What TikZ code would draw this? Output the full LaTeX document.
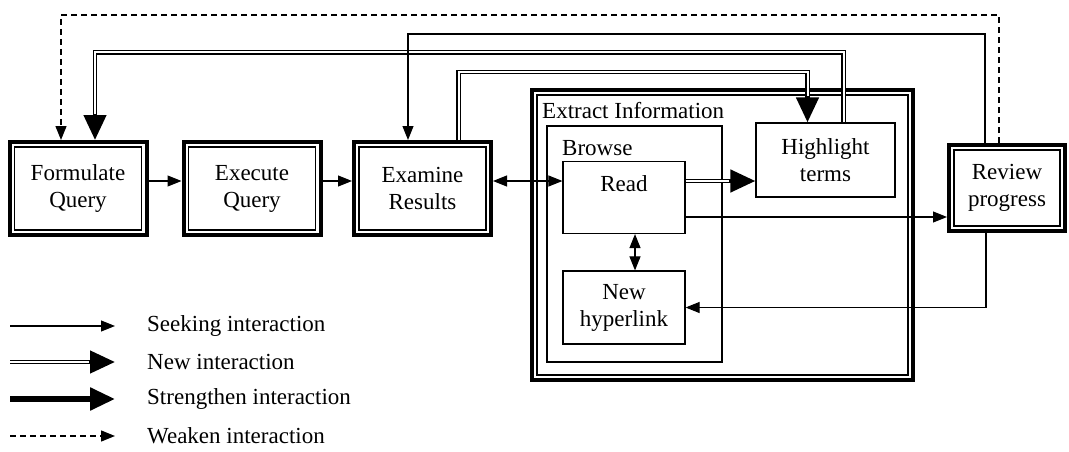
\documentclass[tikz,border=0pt]{standalone}
\usepackage{fontspec}
\setmainfont{Liberation Serif}
\usetikzlibrary{positioning,arrows.meta}
\tikzset{
  stage/.style={rectangle, draw=black, line width=1.2pt, minimum width=127pt, minimum height=83pt, outer sep=7pt, align=center},
  frame/.style={draw=black, line width=4pt},
  task/.style={rectangle, draw=black, line width=1.2pt, minimum width=122pt, minimum height=72pt, align=center},
  group/.style={rectangle, draw=black, line width=1.2pt},
  caption/.style={anchor=base west, inner sep=0pt},
  keytext/.style={anchor=west, inner sep=0pt},
  seek/.style={line width=1.1pt, -{Triangle[length=14pt,width=11pt]}},
  seekboth/.style={line width=1.1pt, {Triangle[length=14pt,width=11pt]}-{Triangle[length=14pt,width=11pt]}},
  newia/.style={line width=4.5pt, -{Triangle[length=25pt,width=22pt]}, postaction={draw=white, line width=2pt, shorten >=26pt, -}},
  strong/.style={line width=5.5pt, -{Triangle[length=25pt,width=22pt]}},
  weak/.style={line width=1.3pt, dash pattern=on 6pt off 4pt, -{Triangle[length=14pt,width=11pt]}}
}
\begin{document}
\begin{tikzpicture}[x=1pt, y=-1pt, font=\fontsize{23}{27}\selectfont]
	\useasboundingbox (0,0) rectangle (1069,452);
	\node[stage] (formulate) at (78,188.5) {Formulate\\Query};
	\node[stage] (execute) at (252,188.5) {Execute\\Query};
	\node[stage] (examine) at (422.5,188.5) {Examine\\Results};
	\node[stage, minimum width=106pt, minimum height=76pt] (review) at (1007,188) {Review\\progress};
	\node[group, minimum width=371pt, minimum height=280pt, outer sep=7pt] (extract) at (722.5,235) {};
	\node[group, minimum width=175pt, minimum height=236pt] (browse) at (634.5,244) {};
	\node[task] (read) at (624,197.5) {Read\\~};
	\node[task, minimum height=73pt] (newlink) at (624,307.5) {New\\hyperlink};
	\node[task, minimum width=139pt, minimum height=74pt] (highlight) at (825.5,160) {Highlight\\terms};
	\node[caption] (extractlbl) at (542,118) {Extract Information};
	\node[caption] (browselbl) at (562,155) {Browse};
	%
	\foreach \n in {formulate,execute,examine,review,extract}
		\draw[frame] ([shift={(2pt,-2pt)}]\n.north west) rectangle ([shift={(-2pt,2pt)}]\n.south east);
	%
	\draw[newia] ([xshift=18pt]highlight.north) -- ++(0,-70) -| ([xshift=17pt]formulate.north);
	\draw[newia] ([xshift=36pt]examine.north) -- ++(0,-68) -| ([xshift=-18pt]highlight.north);
	\draw[newia] ([yshift=16.5pt]read.east) -- ([yshift=-21pt]highlight.west);
	\draw[seek] ([yshift=7.5pt]formulate.east) -- ([yshift=7.5pt]execute.west);
	\draw[seek] ([yshift=7.5pt]execute.east) -- ([yshift=7.5pt]examine.west);
	\draw[seekboth] ([yshift=7.5pt]examine.east) -- ([yshift=16.5pt]read.west);
	\draw[seekboth] ([xshift=11pt]read.south) -- ([xshift=11pt]newlink.north);
	\draw[seek] ([yshift=-19.5pt]read.east) -- ([yshift=-29pt]review.west);
	\draw[seek] ([xshift=-21pt]review.south) |- (newlink.east);
	\draw[seek] ([xshift=-22pt]review.north) -- ++(0,-109) -| ([xshift=-14.5pt]examine.north);
	\draw[weak] ([xshift=-8pt]review.north) -- ++(0,-128) -| ([xshift=-17pt]formulate.north);
	%
	\node[keytext] (keyseek) at (147,326) {Seeking interaction};
	\node[keytext] (keynew) at (147,362) {New interaction};
	\node[keytext] (keystrong) at (147,399) {Strengthen interaction};
	\node[keytext] (keyweak) at (147,436) {Weaken interaction};
	\draw[seek] ([xshift=-137pt]keyseek.west) -- ([xshift=-32pt]keyseek.west);
	\draw[newia] ([xshift=-137pt]keynew.west) -- ([xshift=-32pt]keynew.west);
	\draw[strong] ([xshift=-137pt]keystrong.west) -- ([xshift=-32pt]keystrong.west);
	\draw[weak] ([xshift=-137pt]keyweak.west) -- ([xshift=-32pt]keyweak.west);
\end{tikzpicture}
\end{document}
